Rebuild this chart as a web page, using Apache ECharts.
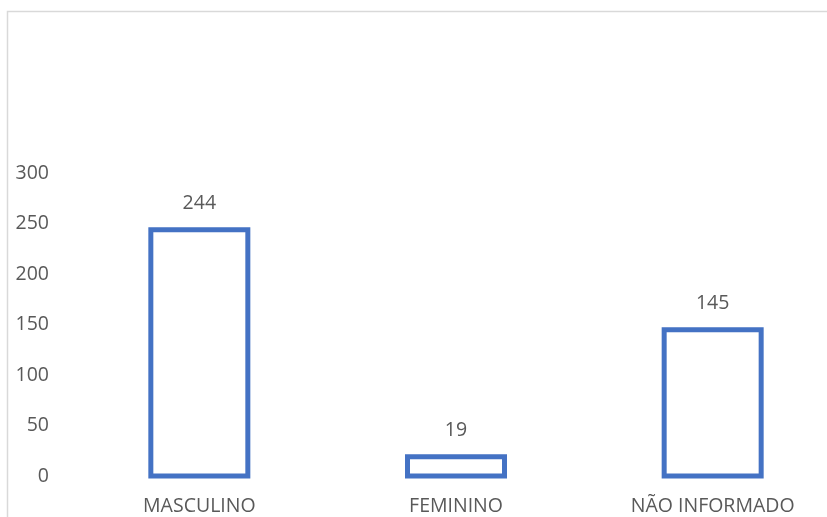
<!DOCTYPE html>
<html>
<head>
<meta charset="utf-8">
<script src="https://cdn.jsdelivr.net/npm/echarts@6/dist/echarts.min.js"></script>
<style>
  html, body { margin: 0; padding: 0; background: #fff; }
  #chart { width: 827px; height: 517px; }
</style>
</head>
<body>
<div id="chart"></div>
<script>
// Sexo dos registros
const categories = ['MASCULINO', 'FEMININO', 'NÃO INFORMADO'];
const values = [244, 19, 145];
const yTicks = { min: 0, max: 300, interval: 50 };

const textColor = '#595959';
const barColor = '#4472c4';
const fontFamily = '"Open Sans", "Noto Sans", sans-serif';
const fontSize = 19.5;

// Outlined columns: stroke centred on the value line, label above
function renderColumn(params, api) {
  const idx = api.value(0);
  const val = api.value(1);
  const top = api.coord([idx, val]);
  const base = api.coord([idx, 0]);
  const w = 97;
  return {
    type: 'group',
    children: [{
      type: 'rect',
      shape: { x: top[0] - w / 2, y: top[1], width: w, height: base[1] - top[1] },
      style: { fill: '#ffffff', stroke: barColor, lineWidth: 5 }
    }, {
      type: 'text',
      x: top[0], y: top[1] - 26,
      style: {
        text: String(val), fill: textColor, font: fontSize + 'px ' + fontFamily,
        align: 'center', verticalAlign: 'middle'
      }
    }]
  };
}

const chart = echarts.init(document.getElementById('chart'), null, { renderer: 'canvas' });
chart.setOption({
  backgroundColor: '#ffffff',
  animation: false,
  graphic: [{
    type: 'rect',
    left: 5, top: 9,
    shape: { width: 900, height: 600 },
    style: { fill: 'none', stroke: '#d9d9d9', lineWidth: 1.5 },
    silent: true
  }],
  grid: { left: 71, top: 173.3, width: 770, bottom: 41, outerBoundsMode: 'none', containLabel: false },
  xAxis: {
    type: 'category',
    data: categories,
    axisLine: { show: false },
    axisTick: { show: false },
    axisLabel: { color: textColor, fontSize: fontSize, fontFamily: fontFamily, margin: 20, interval: 0 }
  },
  yAxis: {
    type: 'value',
    min: yTicks.min, max: yTicks.max, interval: yTicks.interval,
    axisLine: { show: false },
    axisTick: { show: false },
    splitLine: { show: false },
    axisLabel: { color: textColor, fontSize: fontSize, fontFamily: fontFamily, margin: 22 }
  },
  series: [{
    type: 'custom',
    renderItem: renderColumn,
    data: values.map((v, i) => [i, v]),
    encode: { x: 0, y: 1 },
    clip: false
  }]
});
</script>
</body>
</html>
